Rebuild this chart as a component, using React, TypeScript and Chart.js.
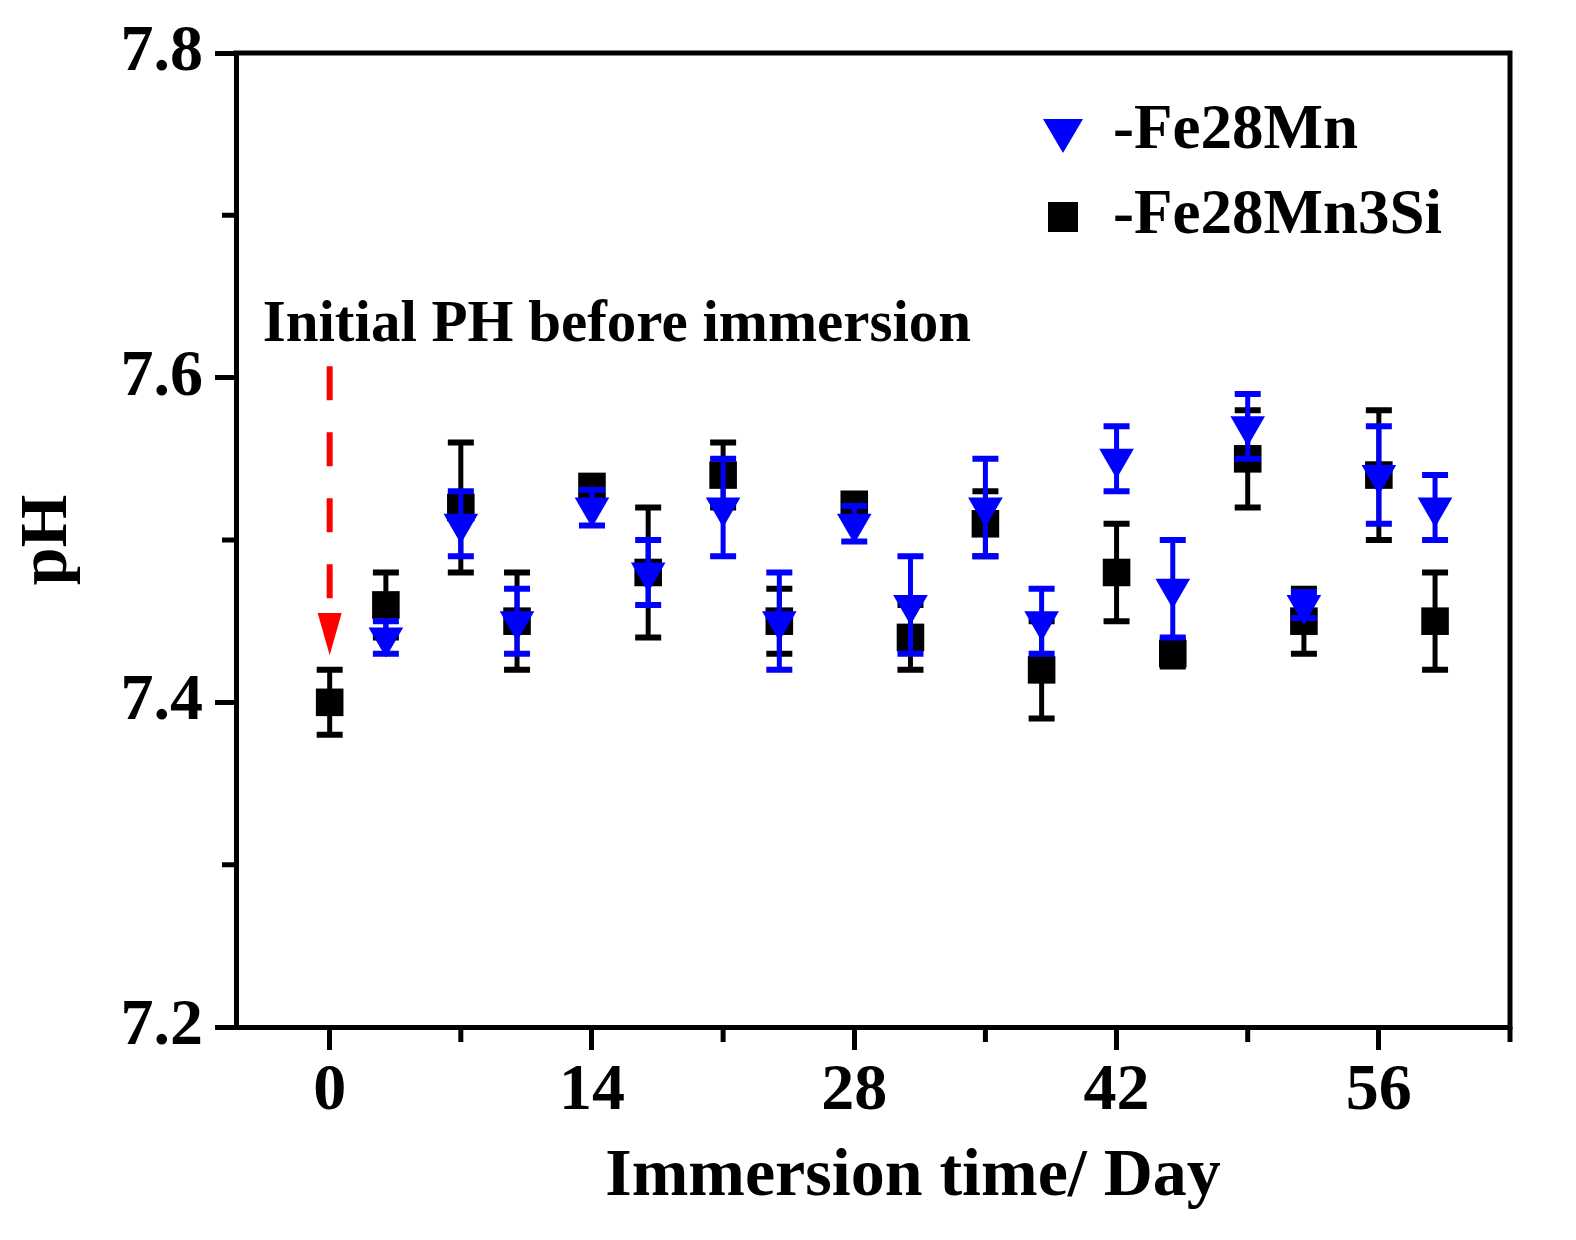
import { useEffect, useRef } from 'react';
import { Chart, registerables } from 'chart.js';

Chart.register(...registerables);

const SERIF = '"Liberation Serif", "Times New Roman", serif';
const BLUE = '#0000ff';
const BLACK = '#000000';
const RED = '#ff0000';

// -Fe28Mn (blue, down triangles)
const fe28mnDays = [3, 7, 10, 14, 17, 21, 24, 28, 31, 35, 38, 42, 45, 49, 52, 56, 59];
const fe28mnPH = [7.44, 7.51, 7.45, 7.52, 7.48, 7.52, 7.45, 7.51, 7.46, 7.52, 7.45, 7.55, 7.47, 7.57, 7.46, 7.54, 7.52];
const fe28mnErr = [0.01, 0.02, 0.02, 0.011, 0.02, 0.03, 0.03, 0.011, 0.03, 0.03, 0.02, 0.02, 0.03, 0.02, 0.008, 0.03, 0.02];

// -Fe28Mn3Si (black, squares)
const fe28mn3siDays = [0, 3, 7, 10, 14, 17, 21, 24, 28, 31, 35, 38, 42, 45, 49, 52, 56, 59];
const fe28mn3siPH = [7.4, 7.46, 7.52, 7.45, 7.533, 7.48, 7.54, 7.45, 7.522, 7.44, 7.51, 7.42, 7.48, 7.43, 7.55, 7.45, 7.54, 7.45];
const fe28mn3siErr = [0.02, 0.02, 0.04, 0.03, 0.005, 0.04, 0.02, 0.02, 0.005, 0.02, 0.02, 0.03, 0.03, 0.008, 0.03, 0.02, 0.04, 0.03];

const xMajorTicks = [0, 14, 28, 42, 56];
const xMinorTicks = [7, 21, 35, 49, 63];
const xTickLabels = ['0', '14', '28', '42', '56'];
const yMajorTicks = [7.2, 7.4, 7.6, 7.8];
const yMinorTicks = [7.3, 7.5, 7.7];
const yTickLabels = ['7.2', '7.4', '7.6', '7.8'];

const xTitle = 'Immersion time/ Day';

// red arrow: initial pH before immersion
const arrowDay = 0;
const arrowFromPH = 7.607;
const arrowHeadPH = 7.455;
const arrowTipPH = 7.429;

const errorBars = {
  id: 'errorBars',
  afterDatasetDraw(chart: any, args: any) {
    const ds = chart.data.datasets[args.index];
    const errs: number[] = ds.errors;
    if (!errs) return;
    const yScale = chart.scales.y;
    const ctx: CanvasRenderingContext2D = chart.ctx;
    ctx.save();
    ctx.strokeStyle = ds.pointBackgroundColor;
    args.meta.data.forEach((pt: any, i: number) => {
      const v = ds.data[i].y;
      const top = yScale.getPixelForValue(v + errs[i]);
      const bot = yScale.getPixelForValue(v - errs[i]);
      ctx.lineWidth = 5;
      ctx.beginPath();
      ctx.moveTo(pt.x, top);
      ctx.lineTo(pt.x, bot);
      ctx.stroke();
      ctx.lineWidth = 6;
      ctx.beginPath();
      ctx.moveTo(pt.x - 13, top);
      ctx.lineTo(pt.x + 13, top);
      ctx.moveTo(pt.x - 13, bot);
      ctx.lineTo(pt.x + 13, bot);
      ctx.stroke();
    });
    ctx.restore();
  },
};

const decorations = {
  id: 'decorations',
  afterDraw(chart: any) {
    const ctx: CanvasRenderingContext2D = chart.ctx;
    const a = chart.chartArea;
    const { x, y } = chart.scales;
    ctx.save();

    // top and right frame
    ctx.strokeStyle = BLACK;
    ctx.lineWidth = 5;
    ctx.beginPath();
    ctx.moveTo(a.left - 2.5, a.top);
    ctx.lineTo(a.right + 2.5, a.top);
    ctx.moveTo(a.right, a.top);
    ctx.lineTo(a.right, a.bottom + 2.5);
    ctx.stroke();

    // minor ticks
    ctx.beginPath();
    xMinorTicks.forEach((v) => {
      const px = x.getPixelForValue(v);
      ctx.moveTo(px, a.bottom);
      ctx.lineTo(px, a.bottom + 15);
    });
    yMinorTicks.forEach((v) => {
      const py = y.getPixelForValue(v);
      ctx.moveTo(a.left, py);
      ctx.lineTo(a.left - 14, py);
    });
    ctx.stroke();

    // x axis title (sits a little right of the plot centre)
    ctx.fillStyle = BLACK;
    ctx.font = `bold 68px ${SERIF}`;
    ctx.textAlign = 'center';
    ctx.textBaseline = 'alphabetic';
    ctx.fillText(xTitle, (a.left + a.right) / 2 + 40, a.bottom + 168);

    // dashed red arrow
    const ax = x.getPixelForValue(arrowDay);
    const yTop = y.getPixelForValue(arrowFromPH);
    const yHead = y.getPixelForValue(arrowHeadPH);
    const yTip = y.getPixelForValue(arrowTipPH);
    ctx.strokeStyle = RED;
    ctx.lineWidth = 6;
    ctx.setLineDash([34, 32]);
    ctx.beginPath();
    ctx.moveTo(ax, yTop);
    ctx.lineTo(ax, yHead - 2);
    ctx.stroke();
    ctx.setLineDash([]);
    ctx.fillStyle = RED;
    ctx.beginPath();
    ctx.moveTo(ax - 12, yHead);
    ctx.lineTo(ax + 12, yHead);
    ctx.lineTo(ax, yTip);
    ctx.closePath();
    ctx.fill();

    // annotation text
    ctx.fillStyle = BLACK;
    ctx.font = `bold 59px ${SERIF}`;
    ctx.textAlign = 'left';
    ctx.fillText('Initial PH before immersion', ax - 67, yTop - 25);

    // legend
    const mx = a.right - 447;
    const r1 = a.top + 81;
    const r2 = a.top + 164;
    ctx.fillStyle = BLUE;
    ctx.beginPath();
    ctx.moveTo(mx - 20, r1 - 15);
    ctx.lineTo(mx + 20, r1 - 15);
    ctx.lineTo(mx, r1 + 19);
    ctx.closePath();
    ctx.fill();
    ctx.fillStyle = BLACK;
    ctx.fillRect(mx - 15, r2 - 15, 30, 30);
    ctx.font = `bold 63px ${SERIF}`;
    ctx.fillText(chart.data.datasets[0].label, mx + 50, r1 + 14);
    ctx.fillText(chart.data.datasets[1].label, mx + 50, r2 + 16);

    ctx.restore();
  },
};

const tickList = (major: number[], minor: number[]) =>
  [...major, ...minor].sort((p, q) => p - q).map((value) => ({ value }));

export default function App() {
  const canvasRef = useRef<HTMLCanvasElement>(null);

  useEffect(() => {
    if (!canvasRef.current) return;

    const chart = new Chart(canvasRef.current, {
      type: 'scatter',
      data: {
        datasets: [
          {
            label: '-Fe28Mn',
            data: fe28mnDays.map((d, i) => ({ x: d, y: fe28mnPH[i] })),
            errors: fe28mnErr,
            pointStyle: 'triangle',
            pointRotation: 180,
            pointRadius: 20,
            pointHoverRadius: 20,
            pointBackgroundColor: BLUE,
            pointBorderColor: BLUE,
            pointBorderWidth: 0,
          } as any,
          {
            label: '-Fe28Mn3Si',
            data: fe28mn3siDays.map((d, i) => ({ x: d, y: fe28mn3siPH[i] })),
            errors: fe28mn3siErr,
            pointStyle: 'rect',
            pointRadius: 19.5,
            pointHoverRadius: 19.5,
            pointBackgroundColor: BLACK,
            pointBorderColor: BLACK,
            pointBorderWidth: 0,
          } as any,
        ],
      },
      options: {
        animation: false,
        responsive: true,
        maintainAspectRatio: false,
        layout: { padding: { left: 0, top: 53, right: 66, bottom: 0 } },
        plugins: {
          legend: { display: false },
          tooltip: { enabled: false },
        },
        scales: {
          x: {
            type: 'linear',
            min: -5,
            max: 63,
            afterBuildTicks: (s: any) => {
              s.ticks = tickList(xMajorTicks, xMinorTicks);
            },
            afterFit: (s: any) => {
              s.height = 213;
            },
            grid: {
              display: true,
              drawOnChartArea: false,
              drawTicks: true,
              tickLength: 23,
              tickWidth: 5,
              tickColor: (c: any) => (xMajorTicks.includes(c.tick?.value) ? BLACK : 'rgba(0,0,0,0)'),
            },
            border: { display: true, color: BLACK, width: 5 },
            ticks: {
              color: BLACK,
              padding: 2,
              maxRotation: 0,
              autoSkip: false,
              font: { family: SERIF, size: 66, weight: 'bold' },
              callback: (v: any) => {
                const i = xMajorTicks.indexOf(Number(v));
                return i >= 0 ? xTickLabels[i] : '';
              },
            },
            title: { display: false, text: xTitle },
          },
          y: {
            type: 'linear',
            min: 7.2,
            max: 7.8,
            afterBuildTicks: (s: any) => {
              s.ticks = tickList(yMajorTicks, yMinorTicks);
            },
            afterFit: (s: any) => {
              s.width = 236;
            },
            grid: {
              display: true,
              drawOnChartArea: false,
              drawTicks: true,
              tickLength: 21,
              tickWidth: 5,
              tickColor: (c: any) => (yMajorTicks.includes(c.tick?.value) ? BLACK : 'rgba(0,0,0,0)'),
            },
            border: { display: true, color: BLACK, width: 5 },
            ticks: {
              color: BLACK,
              padding: 12,
              autoSkip: false,
              font: { family: SERIF, size: 66, weight: 'bold' },
              callback: (v: any) => {
                const i = yMajorTicks.indexOf(Number(v));
                return i >= 0 ? yTickLabels[i] : '';
              },
            },
            title: {
              display: true,
              text: 'pH',
              color: BLACK,
              font: { family: SERIF, size: 68, weight: 'bold' },
              padding: { top: 8, bottom: 0 },
            },
          },
        },
      } as any,
      plugins: [errorBars, decorations],
    });

    return () => chart.destroy();
  }, []);

  return (
    <div style={{ position: 'absolute', left: 0, top: 0, width: 1576, height: 1240, background: '#ffffff' }}>
      <canvas ref={canvasRef} />
    </div>
  );
}
